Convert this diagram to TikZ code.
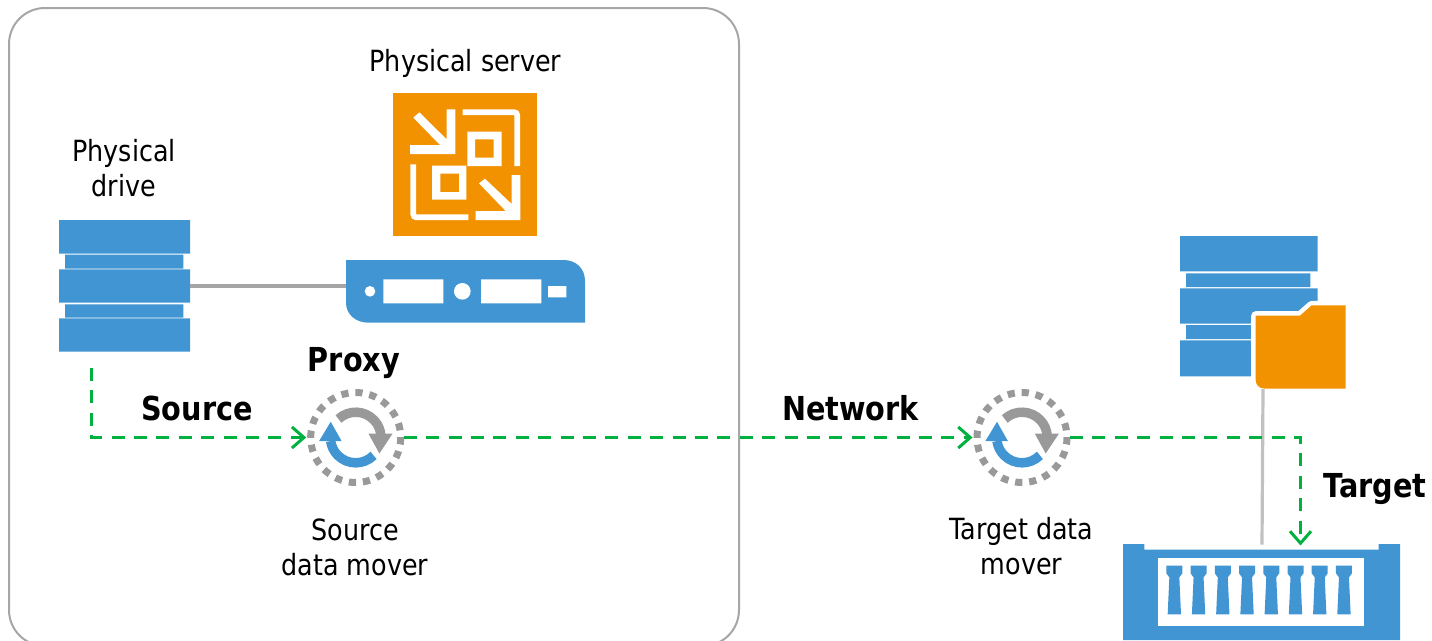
\documentclass[tikz,border=0pt]{standalone}
\usepackage{fontspec}
\setmainfont[FakeStretch=0.87]{DejaVu Sans}
\usetikzlibrary{arrows.meta,calc}
\definecolor{vblue}{HTML}{4195D3}
\definecolor{vorange}{HTML}{F39200}
\definecolor{vgreen}{HTML}{00B140}
\definecolor{vgray}{HTML}{999999}
\definecolor{vframe}{HTML}{A6A6A6}
\tikzset{
  lbl/.style={font=\fontsize{29.2}{35}\selectfont,align=center,inner sep=0pt,text=black},
  blbl/.style={font=\fontsize{33}{35}\selectfont\bfseries,inner sep=0pt,text=black},
  anchorbox/.style={inner sep=0pt,outer sep=0pt,draw=none,fill=none,minimum width=#1},
  flow/.style={draw=vgreen,line width=3pt,dash pattern=on 13pt off 9.4pt},
  flowtip/.style={-{Straight Barb[length=12pt,width=21pt,line width=3pt]},shorten >=1.5pt},
  wire/.style={draw=vframe,line width=3.2pt},
  zoomed/.style={x=0.33333pt,y=-0.33333pt},
  pics/mover/.style={code={
    \draw[vgray,line width=7pt,dash pattern=on 7.2pt off 6.93pt,rotate=9.3] (0,0) circle[radius=45pt];
    \begin{scope}[x=1pt,y=1pt]
      \draw[vgray,line width=9.5pt] (133:25.3) arc[start angle=133,end angle=3,radius=25.3];
      \fill[vgray] (12.7,4) -- (37,4) -- (23.7,-16) -- cycle;
      \draw[vblue,line width=9.5pt] (-45:25.3) arc[start angle=-45,end angle=-172,radius=25.3];
      \fill[vblue] (-36.7,-3.7) -- (-14,-3.7) -- (-25,15.7) -- cycle;
    \end{scope}
  }},
}
\begin{document}
\begin{tikzpicture}[x=1pt,y=-1pt]
\useasboundingbox (0,0) rectangle (1432,640);
\begin{scope}
\clip (0,0) rectangle (1432,640);
\draw[vframe,line width=2pt,rounded corners=36pt] (9,8) rectangle (739,646);
\end{scope}
% invisible anchors
\node[anchorbox=131pt,minimum height=132pt] (drive) at (124.5,286) {};
\node[anchorbox=239pt,minimum height=63pt] (server) at (465.5,291.5) {};
\node[circle,anchorbox=96pt] (proxy) at (355.7,437.5) {};
\node[circle,anchorbox=96pt] (tmover) at (1022,437.5) {};
\coordinate (srcstart) at (91.5,368);
\coordinate (folderfoot) at (1263,389);
\coordinate (storetop) at (1262,544.5);
\coordinate (tin) at (1300.5,545.5);
% drive
\begin{scope}[shift={(40,210)},zoomed]
  \fill[vblue] (57,30) rectangle (450,131) (57,178) rectangle (450,278) (57,325) rectangle (450,425)
    (75,134) rectangle (430,176) (75,283) rectangle (430,323);
\end{scope}
% tile and server
\begin{scope}[shift={(330,80)},zoomed]
  \fill[vorange] (190,38) rectangle (622,468);
  \fill[white] (350,88) -- (376,88) -- (376,222) -- (240,222) -- (240,195) -- (330,195) -- (250,113) -- (268,97) -- (350,178) -- cycle;
  \fill[white] (545,285) -- (571,285) -- (571,420) -- (437,420) -- (437,393) -- (527,393) -- (447,310) -- (465,296) -- (545,372) -- cycle;
  \draw[white,line width=5.7pt,rounded corners=3pt] (398,96.5) -- (561.5,96.5) -- (561.5,258);
  \draw[white,line width=5.7pt,rounded corners=3pt] (250,253) -- (250,412) -- (415,412);
  \fill[white,even odd rule] (412,155) rectangle (515,258) (435,178) rectangle (491,233);
  \fill[white,even odd rule] (306,257) rectangle (409,359) (331,281) rectangle (387,336);
  \fill[vblue,even odd rule] (48,540) -- (700,540) .. controls (738,540) and (765,565) .. (765,603) -- (765,728) -- (115,728) .. controls (77,728) and (48,703) .. (48,668) -- cycle;
  \fill[white] (120,634) circle[radius=16] (397,634) circle[radius=25];
  \fill[white] (160,598) rectangle (340,670) (453,598) rectangle (634,670) (654,618) rectangle (709,652);
\end{scope}
\draw[wire] (drive.east) -- (drive.east -| server.west);
% target database
\begin{scope}[shift={(1170,225)},zoomed]
  \fill[vblue] (30,33) rectangle (443,139) (30,190) rectangle (443,296) (30,346) rectangle (443,454)
    (48,145) rectangle (421,186) (48,300) rectangle (421,342);
  \path[fill=vorange,draw=white,line width=9pt,line join=round] (257,272) -- (390,272) -- (425,241) -- (527,241) -- (527,491) -- (285,491) .. controls (268,491) and (257,480) .. (257,465) -- cycle;
  \fill[vorange] (257,272) -- (390,272) -- (425,241) -- (527,241) -- (527,491) -- (285,491) .. controls (268,491) and (257,480) .. (257,465) -- cycle;
\end{scope}
% storage
\begin{scope}[shift={(1110,520)},zoomed]
  \fill[vblue] (39,72) -- (103,72) -- (103,89) -- (806,89) -- (806,72) -- (870,72) -- (870,360) -- (39,360) -- cycle;
  \fill[white] (145,113) rectangle (763,319);
  \foreach \cx in {193,265.7,338.4,411.1,483.8,556.5,629.2,701.9}{
    \fill[vblue,shift={(\cx,0)}] (-24,137) -- (24,137) -- (24,160) -- (15,172) -- (20,283) -- (-20,283) -- (-15,172) -- (-24,160) -- cycle;
  }
\end{scope}
\draw[draw=vframe!70!white,line width=3.2pt] (folderfoot) -- (storetop);
% movers
\pic at (proxy) {mover};
\pic at (tmover) {mover};
% flows
\draw[flow,flowtip] (srcstart) |- (proxy.west);
\draw[flow,flowtip] (proxy.east) -- (tmover.west);
\draw[flow,flowtip,shorten >=0pt] (tmover.east) -| (tin);
% labels
\node[lbl] (lserver) at (465.5,63) {Physical server};
\node[lbl] (ldrive) at (124,168) {Physical\\drive};
\node[blbl] (lproxy) at (354,363) {Proxy};
\node[blbl] (lsource) at (197,408.5) {Source};
\node[blbl] (lnet) at (850.5,408.5) {Network};
\node[blbl] (ltarget) at (1375,489) {Target};
\node[lbl] (lsm) at (355,547) {Source\\data mover};
\node[lbl] (ltm) at (1021.5,546.5) {Target data\\mover};
\end{tikzpicture}
\end{document}
